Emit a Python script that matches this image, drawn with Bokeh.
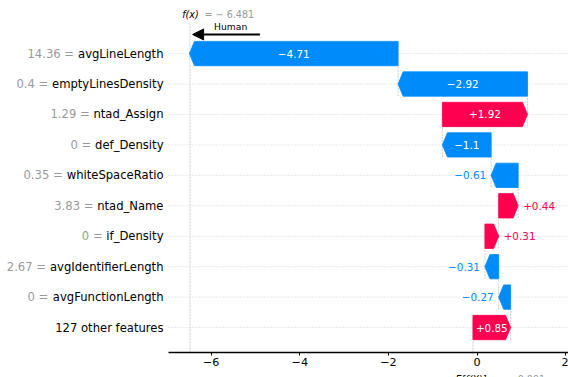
from bokeh.plotting import figure
from bokeh.models import Range1d, FixedTicker, Arrow, NormalHead, ColumnDataSource, LinearAxis, Grid
from bokeh.embed import file_html
from bokeh.resources import INLINE
from bokeh.core.properties import value

# ---------------- data ----------------
features = ["avgLineLength", "emptyLinesDensity", "ntad_Assign", "def_Density",
            "whiteSpaceRatio", "ntad_Name", "if_Density", "avgIdentifierLength",
            "avgFunctionLength", "127 other features"]
feature_values = ["14.36", "0.4", "1.29", "0", "0.35", "3.83", "0", "2.67", "0", None]
shap_values = [-4.71, -2.92, 1.92, -1.10, -0.61, 0.44, 0.31, -0.31, -0.27, 0.85]
base_value = -0.091
fx_value = -6.481
x_ticks = [-6, -4, -2, 0, 2]
x_tick_labels = ["\u22126", "\u22124", "\u22122", "0", "2"]
annotation_text = "Human"
annotation_from = -4.9
annotation_to = -6.42

# ---------------- style / layout ----------------
RED = "#ff0051"
BLUE = "#008bfb"
GRAY = "#999999"
FONT = "DejaVu Sans"
W, H = 568, 377
PX_PER_X = 44.3
ZERO_PX = 476.5
ROW_PX = 30.44
AXIS_PX = 352
X_MIN = -ZERO_PX / PX_PER_X
X_MAX = (W - ZERO_PX) / PX_PER_X
X_LEFT = (168 - ZERO_PX) / PX_PER_X
Y_AXIS = -0.82
Y_MIN = Y_AXIS - (H - AXIS_PX) / ROW_PX
Y_MAX = Y_AXIS + AXIS_PX / ROW_PX
FLINE_TOP = 9.99
BAR_H = 0.8
HEAD_PX = 5.0
VAL_FS = 10.4
LAB_FS = 11.6
hl = HEAD_PX / PX_PER_X

# DejaVu Sans advance widths (units/2048) for text measuring
ADV = {" ": 651, ".": 651, "=": 1716, "_": 1024, "+": 1716, "\u2212": 1716, "-": 739,
       "A": 1401, "D": 1577, "F": 1178, "I": 604, "L": 1141, "N": 1532, "R": 1423, "S": 1300,
       "a": 1255, "c": 1126, "d": 1300, "e": 1260, "f": 721, "g": 1300, "h": 1298, "i": 569,
       "l": 569, "m": 1995, "n": 1298, "o": 1253, "p": 1300, "r": 842, "s": 1067, "t": 803,
       "u": 1298, "v": 1212, "w": 1675, "y": 1212}
for d in "0123456789":
    ADV[d] = 1303


def text_w(s, fs):
    return sum(ADV.get(c, 1250) for c in s) / 2048.0 * fs


def fmt(v):
    s = "%+0.02f" % v
    if "." in s:
        s = s.rstrip("0").rstrip(".")
    return s.replace("-", "\u2212")


def num_str(v):
    return ("\u2212 " if v < 0 else "") + "%0.03f" % abs(v)


n = len(features)
rows = [n - 1 - i for i in range(n)]
starts = [0.0] * n
ends = [0.0] * n
cum = base_value
for i in range(n - 1, -1, -1):
    starts[i] = cum
    cum += shap_values[i]
    ends[i] = cum

p = figure(width=W, height=H, x_range=Range1d(X_MIN, X_MAX), y_range=Range1d(Y_MIN, Y_MAX),
           output_backend="svg", toolbar_location=None, y_axis_location=None,
           x_axis_location=None, min_border=0)
p.outline_line_color = None
p.background_fill_color = "white"
p.border_fill_color = "white"
p.center = [r for r in p.center if not isinstance(r, Grid)]

# horizontal dotted row lines
p.segment(x0=X_LEFT, x1=X_MAX, y0=rows, y1=rows, line_color="#c8c8c8", line_width=0.8,
          line_dash="1 2")

# vertical connectors
cx, cy0, cy1 = [], [], []
for i in range(n - 1, 0, -1):
    cx.append(ends[i])
    cy0.append(rows[i] - 0.4)
    cy1.append(rows[i] + 1 + 0.4)
p.segment(x0=cx, x1=cx, y0=cy0, y1=cy1, line_color="#bbbbbb", line_width=0.7, line_dash="2 1")
# f(x) line and base line
p.segment(x0=[fx_value, base_value], x1=[fx_value, base_value],
          y0=[Y_AXIS, Y_AXIS], y1=[FLINE_TOP, Y_AXIS + 0.1 * (FLINE_TOP - Y_AXIS)],
          line_color="#bbbbbb", line_width=0.7, line_dash="2 1")

# arrows (bars)
xs, ys, cols = [], [], []
for i in range(n):
    s, e, v, y = starts[i], ends[i], shap_values[i], rows[i]
    h = min(hl, abs(v))
    sign = 1 if v > 0 else -1
    neck = e - sign * h
    xs.append([s, neck, e, neck, s])
    ys.append([y - BAR_H / 2, y - BAR_H / 2, y, y + BAR_H / 2, y + BAR_H / 2])
    cols.append(RED if v > 0 else BLUE)
bars = ColumnDataSource(dict(xs=xs, ys=ys, c=cols))
p.patches("xs", "ys", source=bars, fill_color="c", line_color="c", line_width=0.8)

# value labels
inside = dict(x=[], y=[], t=[])
out_l = dict(x=[], y=[], t=[], c=[])
out_r = dict(x=[], y=[], t=[], c=[])
for i in range(n):
    s, e, v, y = starts[i], ends[i], shap_values[i], rows[i]
    t = fmt(v)
    if text_w(t, VAL_FS) < abs(v) * PX_PER_X:
        inside["x"].append((s + e) / 2); inside["y"].append(y); inside["t"].append(t)
    elif v < 0:
        out_l["x"].append(e); out_l["y"].append(y); out_l["t"].append(t); out_l["c"].append(BLUE)
    else:
        out_r["x"].append(e); out_r["y"].append(y); out_r["t"].append(t); out_r["c"].append(RED)

common = dict(text_font=value(FONT), text_font_size="%.1fpx" % VAL_FS, text_baseline="middle")
p.text(x="x", y="y", text="t", source=ColumnDataSource(inside), text_color="white",
       text_align="center", **common)
p.text(x="x", y="y", text="t", source=ColumnDataSource(out_l), text_color="c",
       text_align="right", x_offset=-5, **common)
p.text(x="x", y="y", text="t", source=ColumnDataSource(out_r), text_color="c",
       text_align="left", x_offset=5, **common)

# feature labels on the left (black name, grey value)
names = dict(x=[], y=[], t=[])
vals = dict(x=[], y=[], t=[], off=[])
for i in range(n):
    names["x"].append(X_LEFT); names["y"].append(rows[i]); names["t"].append(features[i])
    if feature_values[i] is not None:
        vals["x"].append(X_LEFT); vals["y"].append(rows[i])
        vals["t"].append(feature_values[i] + " =")
        vals["off"].append(-5 - text_w(features[i], LAB_FS) - text_w(" ", LAB_FS))
lab = dict(text_font=value(FONT), text_font_size="%.1fpx" % LAB_FS, text_baseline="middle",
           text_align="right")
p.text(x="x", y="y", text="t", source=ColumnDataSource(names), text_color="black",
       x_offset=-5, **lab)
p.text(x="x", y="y", text="t", source=ColumnDataSource(vals), text_color=GRAY,
       x_offset="off", **lab)

# f(x) label at top
top = dict(text_font=value(FONT), text_font_size="9.6px", text_baseline="middle", text_align="left")
p.text(x=[fx_value], y=[10.28], text=["f(x)"], text_color="black", text_font_style="italic",
       x_offset=-7.7, **top)
p.text(x=[fx_value], y=[10.28], text=["= " + num_str(fx_value)], text_color=GRAY,
       x_offset=14.6, **top)

# E[f(X)] label at bottom (partly cut by the window)
Y_EFX = Y_AXIS - 27.0 / ROW_PX
bot = dict(text_font=value(FONT), text_font_size="9.6px", text_baseline="alphabetic",
           text_align="left")
p.text(x=[base_value], y=[Y_EFX], text=["E[f(X)]"], text_color="black",
       text_font_style="italic", x_offset=-17.5, **bot)
p.text(x=[base_value], y=[Y_EFX], text=["= " + num_str(base_value)], text_color=GRAY,
       x_offset=22.5, **bot)

# Human arrow
p.add_layout(Arrow(x_start=annotation_from, y_start=9.627, x_end=annotation_to, y_end=9.627,
                   line_width=2, line_color="black",
                   end=NormalHead(size=11, fill_color="black", line_color="black", line_width=1)))
p.text(x=[(annotation_from + annotation_to) / 2 + 0.1], y=[9.89], text=[annotation_text],
       text_font=value(FONT), text_font_size="9.2px", text_baseline="middle",
       text_align="center", text_color="black")

# x axis at fixed location
ax = LinearAxis(fixed_location=Y_AXIS, bounds=(X_LEFT, X_MAX))
ax.ticker = FixedTicker(ticks=x_ticks)
ax.major_label_overrides = {t: l for t, l in zip(x_ticks, x_tick_labels)}
ax.axis_line_width = 1.5
ax.axis_line_color = "black"
ax.major_tick_in = 0
ax.major_tick_out = 3
ax.major_tick_line_color = "black"
ax.minor_tick_line_color = None
ax.major_label_text_font = FONT
ax.major_label_text_font_size = "11.2px"
ax.major_label_text_color = "black"
ax.major_label_standoff = 2
p.add_layout(ax, "below")

open("out.html", "w").write(file_html(p, INLINE))
